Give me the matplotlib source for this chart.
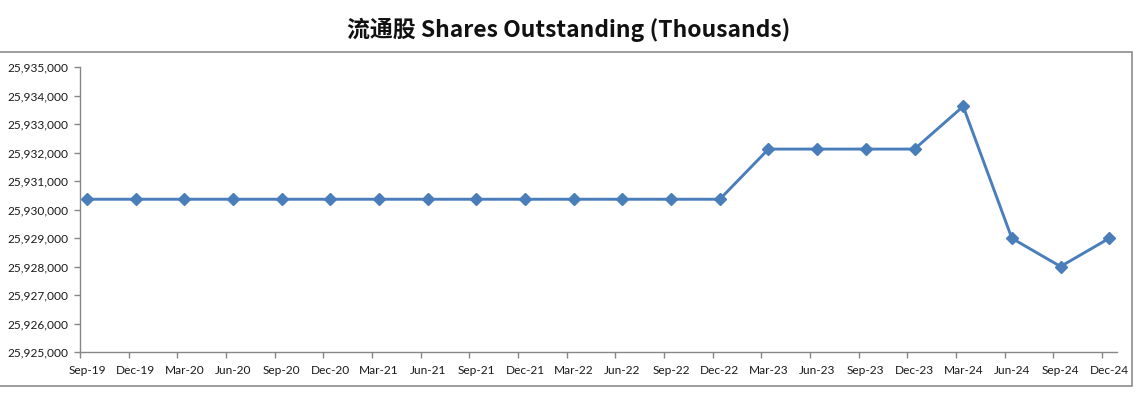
import numpy as np
import matplotlib.pyplot as plt
from matplotlib.ticker import FuncFormatter, FixedLocator
from matplotlib.patches import Rectangle

# trimestres
quarters = ["Sep-19", "Dec-19", "Mar-20", "Jun-20", "Sep-20", "Dec-20", "Mar-21", "Jun-21",
            "Sep-21", "Dec-21", "Mar-22", "Jun-22", "Sep-22", "Dec-22", "Mar-23", "Jun-23",
            "Sep-23", "Dec-23", "Mar-24", "Jun-24", "Sep-24", "Dec-24"]
# actions en circulation (milliers)
shares = [25930360, 25930360, 25930360, 25930360, 25930360, 25930360, 25930360, 25930360,
          25930360, 25930360, 25930360, 25930360, 25930360, 25930360, 25932120, 25932120,
          25932120, 25932120, 25933620, 25928990, 25928000, 25928990]
y_ticks = [25925000, 25926000, 25927000, 25928000, 25929000, 25930000,
           25931000, 25932000, 25933000, 25934000, 25935000]

W, H = 1145, 397
fig = plt.figure(figsize=(W / 100, H / 100), dpi=100)

# cadre gris du graphique
fig.patches.append(Rectangle((-2 / W, 1 - 386 / H), 1134 / W, (386 - 52) / H,
                             transform=fig.transFigure, fill=False,
                             edgecolor="#8c8c8c", linewidth=1.2))

ax = fig.add_axes([80 / W, 1 - 352 / H, (1117 - 80) / W, (352 - 67) / H])
x = np.arange(len(quarters))
ax.plot(x, shares, color="#4a7ebb", linewidth=2.1, marker="D", markersize=6,
        markerfacecolor="#4a7ebb", markeredgecolor="#4a7ebb")

off = 0.145
ax.set_xlim(-off, len(quarters) - 1 + 0.16)
ax.set_ylim(y_ticks[0], y_ticks[-1])
ax.set_yticks(y_ticks)
ax.yaxis.set_major_formatter(FuncFormatter(lambda v, p: f"{int(v):,}"))

# graduations entre les catégories, étiquettes sur les points
ax.xaxis.set_major_locator(FixedLocator(x - off))
ax.xaxis.set_major_formatter(FuncFormatter(lambda v, p: ""))
ax.xaxis.set_minor_locator(FixedLocator(x))
ax.set_xticklabels(quarters, minor=True)
ax.tick_params(axis="x", which="minor", length=0, pad=9)
ax.tick_params(axis="both", which="major", length=4, color="#868686", width=1)
ax.tick_params(axis="y", pad=4)
for lab in ax.get_yticklabels() + ax.get_xticklabels(minor=True):
    lab.set_fontfamily("Lato")
    lab.set_fontsize(8.6)
    lab.set_color("#1a1a1a")

for s in ["top", "right"]:
    ax.spines[s].set_visible(False)
for s in ["left", "bottom"]:
    ax.spines[s].set_color("#868686")
    ax.spines[s].set_linewidth(1)

fig.text(0.497, 1 - 30 / H, "流通股 Shares Outstanding (Thousands)", ha="center", va="center",
         fontsize=16.5, fontweight="bold", family=["Noto Sans CJK SC", "DejaVu Sans"],
         color="#111111")

fig.savefig("out.png", dpi=100)
